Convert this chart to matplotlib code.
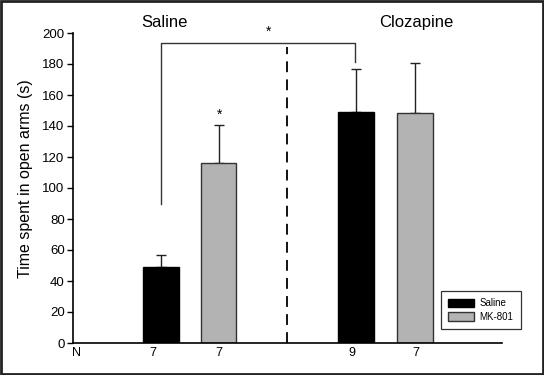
import numpy as np
import matplotlib
matplotlib.use("Agg")
import matplotlib.pyplot as plt
from matplotlib.patches import Rectangle, Patch

plt.rcParams['font.family'] = ['Liberation Sans', 'DejaVu Sans']

# bar data: saline group then clozapine group
positions = [1.0, 2.0, 4.38, 5.40]
means = [49, 116, 149, 148.5]
sems = [7.5, 24.5, 28, 32]
colors = ['black', '#b3b3b3', 'black', '#b3b3b3']
n_labels = ['N', '7', '7', '9', '7']
n_pos = [-0.47, 0.87, 2.0, 4.31, 5.42]
yticks = [0, 20, 40, 60, 80, 100, 120, 140, 160, 180, 200]

fig = plt.figure(figsize=(5.44, 3.75), dpi=100)
ax = fig.add_axes([73/544, 32/375, 429/544, 310/375])

ax.bar(positions, means, width=0.62, color=colors, edgecolor=['black', '#333333', 'black', '#333333'],
       linewidth=1.0, zorder=2)
ax.errorbar(positions, means, yerr=[np.zeros(len(sems)), sems], fmt='none', ecolor='#222222',
            elinewidth=1.0, capsize=3.3, capthick=1.0, zorder=1)

ax.set_xlim(-0.522, 6.913)
ax.set_ylim(0, 200)
ax.set_yticks(yticks)
ax.tick_params(axis='y', direction='out', length=4, width=1, labelsize=9.5, pad=2)
ax.set_xticks(n_pos)
ax.set_xticklabels(n_labels)
ax.tick_params(axis='x', length=0, labelsize=9, pad=3)
for s in ['top', 'right']:
    ax.spines[s].set_visible(False)
ax.spines['left'].set_linewidth(1.2)
ax.spines['bottom'].set_linewidth(1.2)
ax.set_ylabel('Time spent in open arms (s)', fontsize=11.5)
ax.yaxis.set_label_coords(-0.093, 0.529)

# divider between groups
ax.plot([3.19, 3.19], [0, 191], color='black', linestyle=(0, (6, 4)), linewidth=1.3, clip_on=False)

# significance bracket
ax.plot([1.01, 1.01, 4.37, 4.37], [90, 193.5, 193.5, 181], color='#333333', linewidth=1.0, clip_on=False)
ax.text(2.86, 196, '*', ha='center', va='bottom', fontsize=10)
ax.text(2.02, 143, '*', ha='center', va='bottom', fontsize=10)

# group titles
ax.text(1.07, 206.5, 'Saline', ha='center', va='center', fontsize=12)
ax.text(5.42, 206.5, 'Clozapine', ha='center', va='center', fontsize=12)

handles = [Patch(facecolor='black', edgecolor='black', label='Saline'),
           Patch(facecolor='#b3b3b3', edgecolor='#333333', label='MK-801')]
leg = fig.legend(handles=handles, loc='upper left', bbox_to_anchor=(441/544, 1 - 291/375),
                 fontsize=7, frameon=True, fancybox=False, edgecolor='black', borderaxespad=0,
                 handlelength=2.6, handleheight=0.95, borderpad=0.75, labelspacing=0.35, handletextpad=0.6)
leg.get_frame().set_linewidth(0.9)

fig.patches.append(Rectangle((0.002, 0.003), 0.996, 0.994, transform=fig.transFigure,
                             fill=False, edgecolor='#222222', linewidth=2))

fig.savefig('out.png', dpi=100)
